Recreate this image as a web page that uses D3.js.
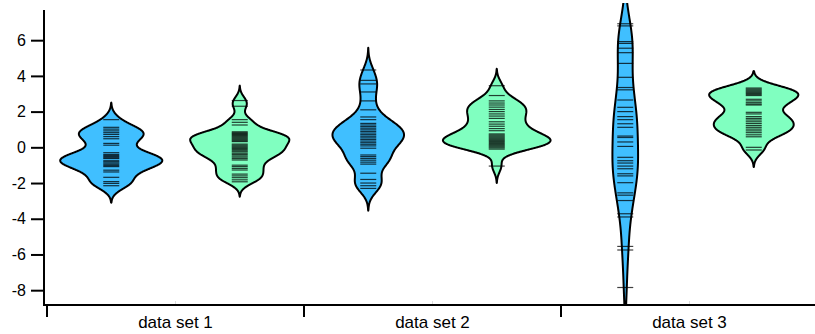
<!DOCTYPE html>
<html><head><meta charset="utf-8">
<script src="https://cdn.jsdelivr.net/npm/d3@7"></script>
<style>
html,body{margin:0;padding:0;background:#fff;}
svg{display:block;font-family:"Liberation Sans",Arial,sans-serif;}
</style></head>
<body>
<svg id="chart" width="815" height="334"></svg>
<script>
const categories = ["data set 1", "data set 2", "data set 3"];
const seriesNames = ["blue", "green"];
const seriesColors = ["#40BFFF", "#80FFC0"];
const yTicks = [-8, -6, -4, -2, 0, 2, 4, 6];

const blue1 = [1.55, 1.12, 1.02, 0.92, 0.82, 0.72, 0.6, 0.48, 0.22, 0.12, -0.3, -0.4, -0.46, -0.52, -0.58, -0.63, -0.75, -0.81, -0.88, -0.95, -1.02, -1.08, -1.28, -1.38, -1.68, -1.92, -2.02, -2.15];
const green1 = [2.62, 2.3, 1.55, 1.4, 1.25, 0.87, 0.82, 0.77, 0.72, 0.67, 0.62, 0.57, 0.52, 0.47, 0.42, 0.37, 0.32, 0.18, 0.12, 0.06, 0.0, -0.06, -0.12, -0.19, -0.25, -0.33, -0.4, -0.48, -0.55, -0.63, -0.71, -1.0, -1.08, -1.18, -1.27, -1.5, -1.6, -1.7, -1.82, -1.93];
const blue2 = [4.33, 3.75, 3.55, 3.1, 2.6, 2.1, 1.7, 1.55, 1.34, 1.25, 1.16, 1.07, 0.98, 0.89, 0.8, 0.71, 0.62, 0.53, 0.44, 0.35, 0.26, 0.17, 0.08, -0.05, -0.43, -0.52, -0.62, -0.72, -0.83, -0.94, -1.45, -1.8, -2.0, -2.15, -2.3];
const green2 = [3.45, 2.9, 2.6, 2.48, 2.37, 2.25, 2.12, 2.0, 1.87, 1.75, 1.62, 1.43, 1.3, 1.18, 1.05, 0.93, 0.75, 0.69, 0.63, 0.57, 0.51, 0.45, 0.39, 0.33, 0.27, 0.21, 0.15, 0.09, 0.03, -0.03, -0.1, -1.05];
const blue3 = [6.92, 6.8, 5.92, 5.82, 5.55, 5.3, 4.7, 3.92, 3.35, 3.22, 2.65, 2.24, 2.0, 1.72, 1.55, 1.32, 1.12, 0.63, 0.55, 0.3, 0.05, -0.56, -0.75, -0.88, -1.05, -1.2, -1.48, -1.6, -1.98, -2.55, -2.68, -2.98, -3.72, -3.9, -5.55, -5.75, -7.85];
const green3 = [3.32, 3.26, 3.2, 3.14, 3.08, 3.02, 2.96, 2.9, 2.69, 2.6, 2.5, 2.42, 2.37, 1.96, 1.87, 1.72, 1.62, 1.53, 1.43, 1.33, 1.22, 1.12, 1.02, 0.92, 0.82, 0.7, 0.59, 0.0, -0.15];

const groups = [
  {cat: categories[0], series: 0, values: blue1},
  {cat: categories[0], series: 1, values: green1},
  {cat: categories[1], series: 0, values: blue2},
  {cat: categories[1], series: 1, values: green2},
  {cat: categories[2], series: 0, values: blue3},
  {cat: categories[2], series: 1, values: green3}
];

const svg = d3.select("#chart");
const mLeft = 44, mRight = 815, mTop = 10, mBottom = 305;

const y = d3.scaleLinear().domain([-8.83, 7.69]).range([mBottom, mTop]);
const x = d3.scaleBand().domain(categories).range([47, 818]).padding(0);
const xs = d3.scaleBand().domain(d3.range(seriesNames.length)).range([0, x.bandwidth()]).padding(0);

function gauss(u){ return Math.exp(-0.5*u*u)/Math.sqrt(2*Math.PI); }
function kde(values){
  const v = values.slice().sort(d3.ascending);
  const n = v.length;
  const sd = d3.deviation(v);
  const iqr = d3.quantile(v, 0.75) - d3.quantile(v, 0.25);
  const bw = 0.75*0.9*Math.min(sd, iqr/1.34)*Math.pow(n, -0.2);
  const lo = v[0] - 2.7*bw, hi = v[n-1] + 2.7*bw;
  const steps = 300;
  const pts = [];
  for (let i = 0; i <= steps; i++){
    const t = lo + (hi - lo)*i/steps;
    let s = 0;
    for (const d of v) s += gauss((t - d)/bw);
    pts.push([t, (i === 0 || i === steps) ? 0 : s/(n*bw)]);
  }
  return pts;
}

const densities = groups.map(g => kde(g.values));
const w = d3.scaleLinear().domain([0, 1]).range([0, 124]);

svg.append("defs").append("clipPath").attr("id", "plotclip")
  .append("rect").attr("x", mLeft).attr("y", 3).attr("width", mRight - mLeft).attr("height", mBottom - 3);

const plot = svg.append("g").attr("clip-path", "url(#plotclip)");

groups.forEach((g, i) => {
  const cx = x(g.cat) + xs(g.series) + xs.bandwidth()/2;
  const area = d3.area()
    .y(d => y(d[0]))
    .x0(d => cx - w(d[1]))
    .x1(d => cx + w(d[1]))
    .curve(d3.curveBasis);
  plot.append("path")
    .datum(densities[i])
    .attr("d", area)
    .attr("fill", seriesColors[g.series])
    .attr("stroke", "#000")
    .attr("stroke-width", 2)
    .attr("stroke-linejoin", "round");
  plot.append("g").selectAll("line")
    .data(g.values).join("line")
    .attr("x1", cx - 8).attr("x2", cx + 8)
    .attr("y1", d => y(d)).attr("y2", d => y(d))
    .attr("stroke", "#000").attr("stroke-opacity", 0.75).attr("stroke-width", 1.2);
});

const yAxis = svg.append("g").attr("transform", `translate(${mLeft},0)`)
  .call(d3.axisLeft(y).tickValues(yTicks).tickSize(13).tickPadding(5).tickFormat(d => String(d)));
yAxis.select(".domain").attr("d", `M0,${mTop}V${mBottom}`).attr("stroke-width", 2);
yAxis.selectAll(".tick line").attr("stroke-width", 2);
yAxis.selectAll("text").attr("font-size", 16).attr("fill", "#000")
  .attr("font-family", "Liberation Sans, Arial, sans-serif");

const xAxisG = svg.append("g").attr("transform", `translate(0,${mBottom})`);
xAxisG.append("line").attr("x1", mLeft - 1).attr("x2", mRight).attr("y1", 0).attr("y2", 0)
  .attr("stroke", "#000").attr("stroke-width", 2);
xAxisG.selectAll(".bt").data(categories).join("line").attr("class", "bt")
  .attr("x1", d => x(d)).attr("x2", d => x(d)).attr("y1", 0).attr("y2", 12)
  .attr("stroke", "#000").attr("stroke-width", 2);
xAxisG.selectAll(".mt").data(categories).join("line").attr("class", "mt")
  .attr("x1", d => x(d) + x.bandwidth()/2).attr("x2", d => x(d) + x.bandwidth()/2)
  .attr("y1", -4).attr("y2", -1)
  .attr("stroke", "#ddd").attr("stroke-width", 1);
xAxisG.selectAll(".lbl").data(categories).join("text").attr("class", "lbl")
  .attr("x", d => x(d) + x.bandwidth()/2).attr("y", 23)
  .attr("text-anchor", "middle").attr("font-size", 17).attr("fill", "#000")
  .text(d => d);
</script>
</body></html>
